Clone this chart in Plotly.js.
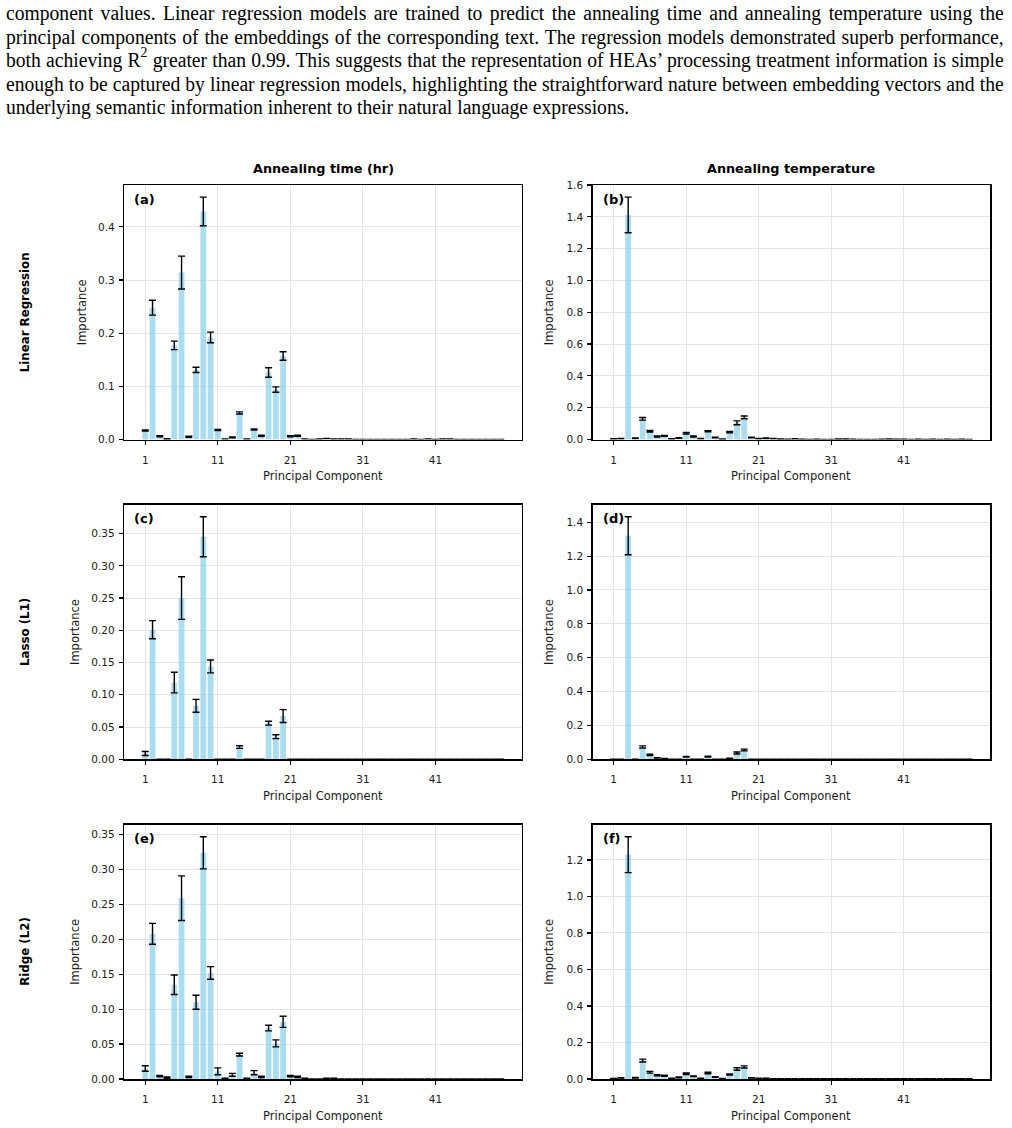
<!DOCTYPE html>
<html>
<head>
<meta charset="utf-8">
<script src="https://cdn.plot.ly/plotly-3.0.1.min.js"></script>
<style>
  html, body { margin: 0; padding: 0; background: #fff; }
  #page { position: relative; width: 1012px; height: 1128px; overflow: hidden; }
  #chart { position: absolute; left: 0; top: 0; width: 1012px; height: 1128px; }
  #para {
    position: absolute; left: 6px; top: 2px; width: 1018px;
    transform: scaleX(0.98); transform-origin: 0 0;
    font-family: "Liberation Serif", "Times New Roman", serif;
    font-size: 20px; line-height: 23.6px; color: #000; z-index: 2;
  }
  #para .ln { display: block; white-space: nowrap; text-align: justify; text-align-last: justify; }
  #para .last { text-align: left; text-align-last: left; }
  #para sup { font-size: 0.7em; line-height: 0; position: relative; top: -0.15em; }
</style>
</head>
<body>
<div id="page">
  <div id="para">
    <span class="ln">component values. Linear regression models are trained to predict the annealing time and annealing temperature using the</span>
    <span class="ln">principal components of the embeddings of the corresponding text. The regression models demonstrated superb performance,</span>
    <span class="ln">both achieving R<sup>2</sup> greater than 0.99. This suggests that the representation of HEAs’ processing treatment information is simple</span>
    <span class="ln">enough to be captured by linear regression models, highlighting the straightforward nature between embedding vectors and the</span>
    <span class="ln last">underlying semantic information inherent to their natural language expressions.</span>
  </div>
  <div id="chart"></div>
</div>
<script>
// Principal components 1..50
const components = Array.from({length: 50}, (_, i) => i + 1);
const xTickVals = [1, 11, 21, 31, 41];

// Annealing time – Linear Regression (a)
const timeLinear = [0.017,0.248,0.006,0.001,0.177,0.314,0.005,0.131,0.429,0.192,
  0.018,0.001,0.004,0.050,0.001,0.019,0.007,0.126,0.094,0.157,
  0.006,0.007,0.001,0,0.001,0.002,0.001,0.001,0.001,0,
  0,0,0,0,0,0,0,0.001,0,0.001,
  0,0.001,0.001,0,0,0,0,0,0,0];
const timeLinearErr = [0.001,0.014,0.001,0.0005,0.008,0.031,0.001,0.005,0.027,0.010,
  0.001,0,0.001,0.002,0,0.001,0.001,0.009,0.005,0.008,
  0.001,0.001,0,0,0,0,0,0,0,0,
  0,0,0,0,0,0,0,0,0,0,
  0,0,0,0,0,0,0,0,0,0];

// Annealing temperature – Linear Regression (b)
const tempLinear = [0.004,0.005,1.412,0.008,0.130,0.052,0.019,0.023,0.004,0.010,
  0.040,0.019,0.005,0.052,0.013,0.002,0.046,0.105,0.139,0.012,
  0.005,0.008,0.006,0.003,0.002,0.004,0.002,0.001,0.002,0.001,
  0.001,0.003,0.003,0.002,0.001,0.001,0.001,0.002,0.003,0.002,
  0.002,0.001,0.002,0.001,0.002,0.001,0.002,0.001,0.002,0.001];
const tempLinearErr = [0.001,0.001,0.112,0.002,0.008,0.005,0.003,0.003,0.001,0.002,
  0.005,0.003,0.001,0.004,0.002,0.001,0.004,0.012,0.009,0.002,
  0.001,0.002,0.001,0.001,0,0.001,0,0,0,0,
  0,0.001,0.001,0,0,0,0,0,0.001,0,
  0,0,0,0,0,0,0,0,0,0];

// Annealing time – Lasso (c)
const timeLasso = [0.009,0.201,0,0,0.119,0.250,0,0.083,0.345,0.144,
  0,0,0,0.019,0,0,0,0.056,0.035,0.067,
  0,0,0,0,0,0,0,0,0,0,
  0,0,0,0,0,0,0,0,0,0,
  0,0,0,0,0,0,0,0,0,0];
const timeLassoErr = [0.003,0.014,0,0,0.016,0.033,0,0.010,0.031,0.010,
  0,0,0,0.002,0,0,0,0.003,0.003,0.010,
  0,0,0,0,0,0,0,0,0,0,
  0,0,0,0,0,0,0,0,0,0,
  0,0,0,0,0,0,0,0,0,0];

// Annealing temperature – Lasso (d)
const tempLasso = [0,0,1.320,0,0.073,0.026,0.008,0.004,0,0,
  0.015,0,0,0.016,0,0,0.006,0.037,0.055,0,
  0,0,0,0,0,0,0,0,0,0,
  0,0,0,0,0,0,0,0,0,0,
  0,0,0,0,0,0,0,0,0,0];
const tempLassoErr = [0,0,0.112,0,0.006,0.004,0.001,0.001,0,0,
  0.002,0,0,0.002,0,0,0.001,0.006,0.005,0,
  0,0,0,0,0,0,0,0,0,0,
  0,0,0,0,0,0,0,0,0,0,
  0,0,0,0,0,0,0,0,0,0];

// Annealing time – Ridge (e)
const timeRidge = [0.015,0.208,0.004,0.002,0.135,0.259,0.003,0.110,0.324,0.152,
  0.011,0.001,0.006,0.035,0.001,0.009,0.003,0.073,0.051,0.082,
  0.004,0.003,0.001,0,0,0.001,0.001,0,0,0,
  0,0,0,0,0,0,0,0,0,0,
  0,0,0,0,0,0,0,0,0,0];
const timeRidgeErr = [0.004,0.015,0.001,0.001,0.014,0.032,0.001,0.010,0.023,0.009,
  0.005,0,0.002,0.002,0,0.003,0.001,0.004,0.005,0.008,
  0.001,0.001,0,0,0,0,0,0,0,0,
  0,0,0,0,0,0,0,0,0,0,
  0,0,0,0,0,0,0,0,0,0];

// Annealing temperature – Ridge (f)
const tempRidge = [0.002,0.006,1.229,0.007,0.101,0.037,0.020,0.018,0.004,0.009,
  0.029,0.015,0.004,0.033,0.011,0.002,0.024,0.055,0.066,0.006,
  0.004,0.003,0.002,0.002,0.001,0.001,0.001,0.001,0.001,0.001,
  0.001,0.001,0.001,0.001,0.001,0.001,0.001,0.001,0.001,0.001,
  0.001,0.001,0.001,0.001,0.001,0.001,0.001,0.001,0.001,0.001];
const tempRidgeErr = [0.001,0.001,0.098,0.002,0.008,0.005,0.003,0.003,0.001,0.002,
  0.004,0.002,0.001,0.004,0.002,0.001,0.003,0.007,0.006,0.001,
  0.001,0.001,0,0,0,0,0,0,0,0,
  0,0,0,0,0,0,0,0,0,0,
  0,0,0,0,0,0,0,0,0,0];

const columnTitles = ["Annealing time (hr)", "Annealing temperature"];
const rowTitles = ["Linear Regression", "Lasso (L1)", "Ridge (L2)"];
const panelLetters = ["(a)", "(b)", "(c)", "(d)", "(e)", "(f)"];
const yTickSteps = [0.1, 0.2, 0.05, 0.2, 0.05, 0.2];
const yTickFormats = [".1f", ".1f", ".2f", ".1f", ".2f", ".1f"];

const panels = [
  {v: timeLinear, e: timeLinearErr},
  {v: tempLinear, e: tempLinearErr},
  {v: timeLasso,  e: timeLassoErr},
  {v: tempLasso,  e: tempLassoErr},
  {v: timeRidge,  e: timeRidgeErr},
  {v: tempRidge,  e: tempRidgeErr}
];

// page geometry (pixels) -> paper fractions
const W = 1012, H = 1128;
const colPx = [[124.3, 521.7], [592.7, 990]];
const rowPx = [[185, 439.5], [504.7, 759.3], [824.7, 1079]];
const px = x => x / W;
const py = y => 1 - y / H;

const FONT = "DejaVu Sans, Verdana, sans-serif";
const traces = [];
const layout = {
  width: W, height: H,
  margin: {l: 0, r: 0, t: 0, b: 0},
  paper_bgcolor: "rgba(0,0,0,0)",
  plot_bgcolor: "#fff",
  showlegend: false,
  bargap: 0.2,
  font: {family: FONT, size: 10, color: "#000"},
  annotations: []
};

panels.forEach((p, i) => {
  const row = Math.floor(i / 2), col = i % 2;
  const suffix = i === 0 ? "" : String(i + 1);
  const xa = "xaxis" + suffix, ya = "yaxis" + suffix;
  const xr = "x" + suffix, yr = "y" + suffix;

  traces.push({
    type: "bar", x: components, y: p.v,
    xaxis: xr, yaxis: yr, width: 0.8,
    marker: {color: "rgba(135,206,235,0.7)", line: {width: 0}},
    error_y: {type: "data", array: p.e, visible: true, color: "#000", thickness: 1.4, width: 3.5},
    hoverinfo: "x+y"
  });

  let top = 0;
  p.v.forEach((v, k) => { top = Math.max(top, v + p.e[k]); });
  const yMax = top * 1.05;
  const step = yTickSteps[i];
  const ticks = [];
  for (let t = 0; t <= yMax + 1e-9; t += step) ticks.push(+t.toFixed(3));

  layout[xa] = {
    domain: [px(colPx[col][0]), px(colPx[col][1])],
    anchor: yr, range: [-1.89, 52.89],
    tickmode: "array", tickvals: xTickVals, ticktext: xTickVals.map(String),
    ticks: "outside", ticklen: 4, tickwidth: 1.2, tickcolor: "#000",
    ticklabelstandoff: 6,
    showline: true, linecolor: "#000", linewidth: 1.5, mirror: true,
    showgrid: true, gridcolor: "#e5e5e5", gridwidth: 1, zeroline: false,
    tickfont: {family: FONT, size: 10.5, color: "#1a1a1a"}
  };
  layout[ya] = {
    domain: [py(rowPx[row][1]), py(rowPx[row][0])],
    anchor: xr, range: [0, yMax],
    tickmode: "array", tickvals: ticks, tickformat: yTickFormats[i],
    ticks: "outside", ticklen: 4, tickwidth: 1.2, tickcolor: "#000",
    ticklabelstandoff: 2,
    showline: true, linecolor: "#000", linewidth: 1.5, mirror: true,
    showgrid: true, gridcolor: "#e5e5e5", gridwidth: 1, zeroline: false,
    tickfont: {family: FONT, size: 10.5, color: "#1a1a1a"}
  };

  // panel letter
  layout.annotations.push({
    text: "<b>" + panelLetters[i] + "</b>", xref: xr + " domain", yref: yr + " domain",
    x: 0.02, y: 0.982, xanchor: "left", yanchor: "top", showarrow: false,
    font: {family: FONT, size: 13, color: "#000"}
  });
  // x-axis title
  layout.annotations.push({
    text: "Principal Component", xref: "paper", yref: "paper",
    x: px((colPx[col][0] + colPx[col][1]) / 2), y: py(rowPx[row][1] + 36.5),
    xanchor: "center", yanchor: "middle", showarrow: false,
    font: {family: FONT, size: 11.5, color: "#1a1a1a"}
  });
  // y-axis title
  const yTitleX = col === 1 ? 549 : (row === 0 ? 82 : 75);
  layout.annotations.push({
    text: "Importance", xref: "paper", yref: "paper", textangle: -90,
    x: px(yTitleX), y: py((rowPx[row][0] + rowPx[row][1]) / 2),
    xanchor: "center", yanchor: "middle", showarrow: false,
    font: {family: FONT, size: 11.5, color: "#1a1a1a"}
  });
});

// column headers
columnTitles.forEach((t, c) => {
  layout.annotations.push({
    text: "<b>" + t + "</b>", xref: "paper", yref: "paper",
    x: px((colPx[c][0] + colPx[c][1]) / 2), y: py(169),
    xanchor: "center", yanchor: "middle", showarrow: false,
    font: {family: FONT, size: 12.8, color: "#000"}
  });
});
// row headers
rowTitles.forEach((t, r) => {
  layout.annotations.push({
    text: "<b>" + t + "</b>", xref: "paper", yref: "paper", textangle: -90,
    x: px(25), y: py((rowPx[r][0] + rowPx[r][1]) / 2),
    xanchor: "center", yanchor: "middle", showarrow: false,
    font: {family: FONT, size: 11.8, color: "#000"}
  });
});

Plotly.newPlot("chart", traces, layout, {displayModeBar: false, staticPlot: true});
</script>
</body>
</html>
